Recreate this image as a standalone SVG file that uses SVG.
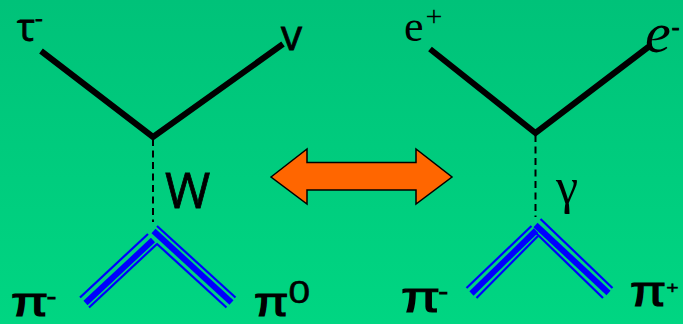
<svg xmlns="http://www.w3.org/2000/svg" width="683" height="324" viewBox="0 0 683 324">
<style>
.f{fill:none;stroke:#000;stroke-width:6}
.d{fill:none;stroke:#000;stroke-width:2;stroke-dasharray:7 4.5}
.b1{fill:none;stroke:#0000ff;stroke-width:2.200}
.b2{fill:none;stroke:#0000ff;stroke-width:6}
.c{font-family:"Open Sans","Noto Sans",sans-serif;fill:#000;stroke:#000;stroke-width:.8}
.p{font-family:"Liberation Sans",sans-serif;fill:#000;stroke:#000;stroke-width:1.200}
.s{font-family:"Liberation Serif",serif;fill:#000}
</style>
<defs><linearGradient id="bg" x1="0" y1="0" x2="0" y2="1"><stop offset="0" stop-color="#00c279"/><stop offset="1" stop-color="#00d682"/></linearGradient></defs>
<rect width="683" height="324" fill="url(#bg)"/>
<g id="connectors">
<path class="f" d="M41 51L153 137L283 44"/>
<path class="d" d="M153 139V222"/>
<path class="b1" d="M80 297.500L148 234M89 307.500L157 244"/>
<path class="b2" d="M85.500 303L153 240"/>
<path class="b1" d="M157 226L235.500 297.500M156.500 243.500L226.500 307.500"/>
<path class="b2" d="M153.500 231L231.500 302.500"/>
<path class="f" d="M430 49L535.500 133L651 45"/>
<path class="d" d="M535.500 135V217"/>
<path class="b1" d="M466.500 288L531.500 226M476.500 298L538 236"/>
<path class="b2" d="M471.500 293.500L536 230.500"/>
<path class="b1" d="M540.500 219L612.500 288M536.500 233.500L603 298"/>
<path class="b2" d="M535.500 225L608.500 293"/>
</g>
<g id="arrow"><path d="M271 177L307 149V162.500H416V149L452 177L416 204V190H307V204Z" fill="#ff6600" stroke="#000" stroke-width="1.500"/></g>
<g id="tau"><text class="c" x="17" y="41" font-size="38">τ<tspan dy="-14" font-size="24">-</tspan></text></g>
<g id="nu"><text class="c" x="281" y="50" font-size="42">v</text></g>
<g id="w"><text class="c" x="165" y="208" font-size="49">W</text></g>
<g id="pi-minus-left"><text class="p" transform="translate(11 316) scale(1.35 1)" font-size="40">π<tspan dy="-12" font-size="20" dx="-1">-</tspan></text></g>
<g id="pi-zero"><text class="p" transform="translate(254 316) scale(1.25 1)" font-size="40">π<tspan dy="-13" font-size="31" style="stroke-width:.5">0</tspan></text></g>
<g id="e-plus"><text class="s" x="404" y="41" font-size="44">e<tspan dy="-15" font-size="30" dx="2">+</tspan></text></g>
<g id="e-minus"><text class="s" x="645" y="52" font-size="58" font-style="italic">e<tspan dy="-16" font-size="24" font-style="normal" font-family="Open Sans" stroke="#000" dx="1">-</tspan></text></g>
<g id="gamma"><text class="s" x="556" y="203" font-size="50">γ</text></g>
<g id="pi-minus-right"><text class="p" transform="translate(401 312) scale(1.35 1)" font-size="42">π<tspan dy="-13" font-size="20" dx="-1">-</tspan></text></g>
<g id="pi-plus"><text class="p" transform="translate(630 306) scale(1.25 1)" font-size="42">π<tspan dy="-13" font-size="17" style="stroke-width:.4">+</tspan></text></g>
</svg>
